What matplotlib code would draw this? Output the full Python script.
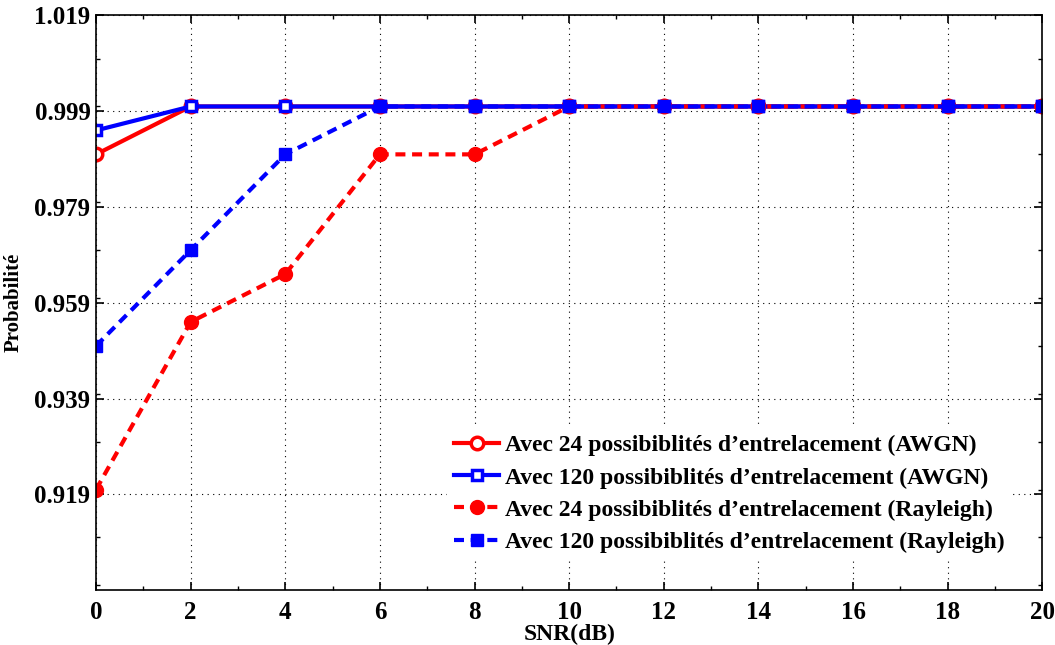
import numpy as np
import matplotlib
matplotlib.use("Agg")
import matplotlib.pyplot as plt
from matplotlib.ticker import MultipleLocator

# SNR axis and detection probability readings
snr = [0, 2, 4, 6, 8, 10, 12, 14, 16, 18, 20]
awgn_24 = [0.990, 1.0, 1.0, 1.0, 1.0, 1.0, 1.0, 1.0, 1.0, 1.0, 1.0]
awgn_120 = [0.995, 1.0, 1.0, 1.0, 1.0, 1.0, 1.0, 1.0, 1.0, 1.0, 1.0]
rayl_24 = [0.920, 0.955, 0.965, 0.990, 0.990, 1.0, 1.0, 1.0, 1.0, 1.0, 1.0]
rayl_120 = [0.950, 0.970, 0.990, 1.0, 1.0, 1.0, 1.0, 1.0, 1.0, 1.0, 1.0]

labels = ["Avec 24 possibiblités d\u2019entrelacement (AWGN)",
          "Avec 120 possibiblités d\u2019entrelacement (AWGN)",
          "Avec 24 possibiblités d\u2019entrelacement (Rayleigh)",
          "Avec 120 possibiblités d\u2019entrelacement (Rayleigh)"]

yticks = [0.919, 0.939, 0.959, 0.979, 0.999, 1.019]

plt.rcParams['font.family'] = ['Liberation Serif', 'DejaVu Serif']
plt.rcParams['font.weight'] = 'bold'

fig = plt.figure(figsize=(10.55, 6.45), dpi=100)
ax = fig.add_axes([0.091, 0.085, 0.897, 0.891])

ax.plot(snr, awgn_24, color='red', lw=3, marker='o', ms=9,
        mfc='white', mec='red', mew=2.5, label=labels[0])
ax.plot(snr, awgn_120, color='blue', lw=3, marker='s', ms=7,
        mfc='white', mec='blue', mew=2.5, label=labels[1])
ax.plot(snr, rayl_24, color='red', lw=3, ls=(0, (2.4, 1.6)), marker='o',
        ms=10, mfc='red', mec='red', label=labels[2])
ax.plot(snr, rayl_120, color='blue', lw=3, ls=(0, (2.4, 1.6)), marker='s',
        ms=8.5, mfc='blue', mec='blue', label=labels[3])

ax.set_xlim(0, 20)
ax.set_ylim(0.899, 1.019)
ax.set_xticks(snr)
ax.xaxis.set_minor_locator(MultipleLocator(1))
ax.set_yticks(yticks)
ax.set_yticklabels(["%.3f" % v for v in yticks])
ax.yaxis.set_minor_locator(MultipleLocator(0.01))

ax.grid(True, which='major', ls=(0, (1, 4)), color='black', lw=0.8)
ax.tick_params(which='both', direction='in', top=True, right=True,
               labelsize=18)
ax.tick_params(axis='y', pad=4)
ax.tick_params(axis='x', pad=8)
ax.tick_params(which='major', length=6, width=1.2)
ax.tick_params(which='minor', length=3, width=1.0)
for s in ax.spines.values():
    s.set_linewidth(1.2)

ax.set_xlabel("SNR(dB)", fontsize=17, fontweight='bold', labelpad=0)
ax.set_ylabel("Probabilité", fontsize=15, fontweight='bold', labelpad=8)

leg = ax.legend(loc='lower right', bbox_to_anchor=(0.98, 0.032), fontsize=17,
                frameon=True, edgecolor='none', facecolor='white',
                framealpha=1, handlelength=1.9, handletextpad=0.25,
                labelspacing=0.45, borderpad=0.3)
for t in leg.get_texts():
    t.set_fontweight('bold')

fig.savefig("out.png", dpi=100)
